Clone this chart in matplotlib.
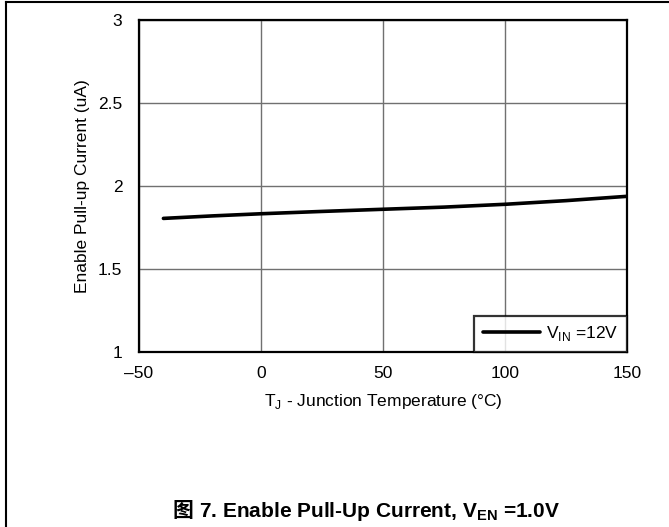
import matplotlib.pyplot as plt
from matplotlib.lines import Line2D

plt.rcParams['font.family'] = ['Liberation Sans', 'Noto Sans CJK SC', 'DejaVu Sans']
plt.rcParams['mathtext.fontset'] = 'custom'
plt.rcParams['mathtext.rm'] = 'Liberation Sans'
plt.rcParams['mathtext.bf'] = 'Liberation Sans:bold'

# Données
temperature = [-40, -20, 0, 25, 50, 75, 100, 125, 150]
courant_12v = [1.805, 1.820, 1.833, 1.847, 1.860, 1.873, 1.890, 1.912, 1.938]
x_ticks = [-50, 0, 50, 100, 150]
x_labels = ['\u201350', '0', '50', '100', '150']
y_ticks = [1, 1.5, 2, 2.5, 3]
y_labels = ['1', '1.5', '2', '2.5', '3']

fig = plt.figure(figsize=(6.69, 5.27), dpi=100)
ax = fig.add_axes([0.2078, 0.332, 0.7294, 0.630])

ax.plot(temperature, courant_12v, color='black', lw=2.6, solid_capstyle='round',
        label=r'V$_{\mathregular{IN}}$ =12V')

ax.set_xlim(-50, 150)
ax.set_ylim(1, 3)
ax.set_xticks(x_ticks)
ax.set_xticklabels(x_labels)
ax.set_yticks(y_ticks)
ax.set_yticklabels(y_labels)
ax.tick_params(axis='x', length=0, labelsize=12.5, pad=10)
ax.tick_params(axis='y', length=0, labelsize=12.5, pad=12)
ax.grid(True, color='#707070', lw=1)
for s in ax.spines.values():
    s.set_linewidth(1.6)

ax.set_xlabel(r'T$_{\mathregular{J}}$ - Junction Temperature (°C)', fontsize=12.5, labelpad=8)
ax.set_ylabel('Enable Pull-up Current (uA)', fontsize=12.5, labelpad=6)

leg = ax.legend(loc='lower right', fontsize=12.5, frameon=True, fancybox=False,
                borderaxespad=0, handlelength=3.3, handletextpad=0.35, borderpad=0.5)
leg.get_frame().set_edgecolor('black')
leg.get_frame().set_linewidth(1.6)

# légende de la figure : le caractère chinois à part, puis le reste en mathtext
y_base = 0.019
t1 = fig.text(0.2586, y_base, '图 ', ha='left', va='baseline', fontsize=15,
              fontweight='bold', family=['Noto Sans CJK SC'])
fig.canvas.draw()
bb = t1.get_window_extent(renderer=fig.canvas.get_renderer())
fig.text(bb.x1 / fig.bbox.width, y_base,
         r'7. Enable Pull-Up Current, V$_{\mathbf{EN}}$ =1.0V',
         ha='left', va='baseline', fontsize=15, fontweight='bold')

# cadre de la page
fig.add_artist(Line2D([0.009, 1], [0.997, 0.997], color='black', lw=1.5, transform=fig.transFigure))
fig.add_artist(Line2D([0.009, 0.009], [0, 0.997], color='black', lw=1.5, transform=fig.transFigure))

fig.savefig('out.png', dpi=100)
